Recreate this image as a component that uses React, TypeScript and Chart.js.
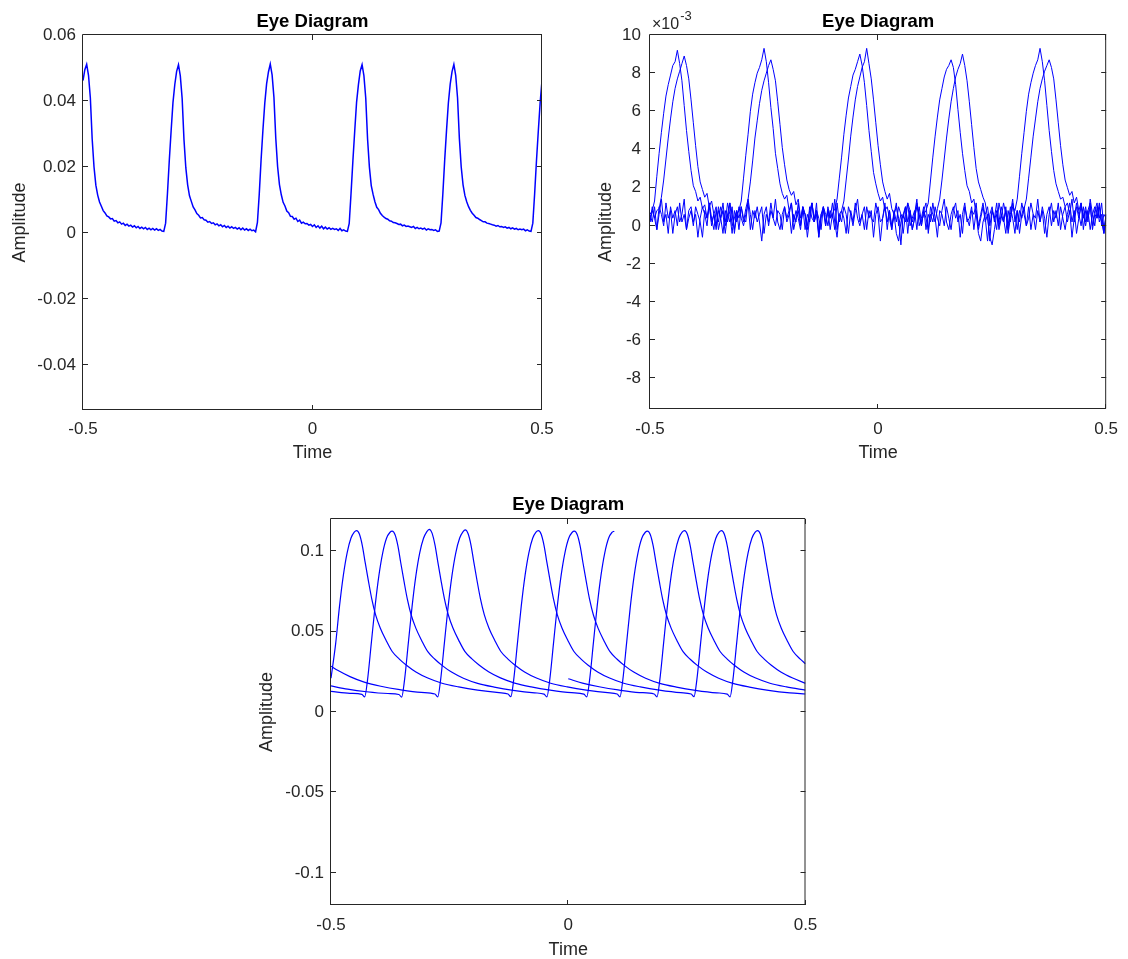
import React, { useEffect, useRef } from 'react';
import { Chart, registerables } from 'chart.js';

Chart.register(...registerables);

const FONT = '"Liberation Sans", Arial, Helvetica, sans-serif';
const AXIS_COLOR = '#262626';
const LINE_COLOR = '#0000ff';

const CHART_TITLE = 'Eye Diagram';
const X_AXIS_TITLE = 'Time';
const Y_AXIS_TITLE = 'Amplitude';

const X_RANGE = [-0.5, 0.5];
const X_TICKS = [-0.5, 0, 0.5];
const X_TICK_LABELS = ['-0.5', '0', '0.5'];

// ---------- Chart 1 (top left) ----------
const Y1_RANGE = [-0.0536, 0.06];
const Y1_TICKS = [-0.04, -0.02, 0, 0.02, 0.04, 0.06];
const Y1_TICK_LABELS = ['-0.04', '-0.02', '0', '0.02', '0.04', '0.06'];
const T1_START = -0.5;
const T1_STEP = 0.004;
const EYE1_TRACE = [
  0.0462, 0.0495,
  0.0511, 0.0478, 0.0410, 0.0285, 0.0200, 0.0145, 0.0115, 0.0094, 0.0081, 0.0068,
  0.0061, 0.0052, 0.0049, 0.0043, 0.0044, 0.0036, 0.0038, 0.0031, 0.0034, 0.0027,
  0.0030, 0.0023, 0.0027, 0.0021, 0.0024, 0.0018, 0.0022, 0.0016, 0.0020, 0.0014,
  0.0018, 0.0013, 0.0017, 0.0011, 0.0015, 0.0010, 0.0014, 0.0009, 0.0013, 0.0008,
  0.0011, 0.0006, 0.0005, 0.0030, 0.0120, 0.0220, 0.0310, 0.0395, 0.0450, 0.0490,
  0.0510, 0.0476, 0.0408, 0.0283, 0.0198, 0.0146, 0.0113, 0.0096, 0.0079, 0.0070,
  0.0059, 0.0054, 0.0046, 0.0047, 0.0040, 0.0039, 0.0033, 0.0035, 0.0029, 0.0031,
  0.0025, 0.0028, 0.0022, 0.0025, 0.0019, 0.0023, 0.0017, 0.0021, 0.0015, 0.0019,
  0.0014, 0.0017, 0.0012, 0.0016, 0.0010, 0.0015, 0.0009, 0.0013, 0.0008, 0.0012,
  0.0007, 0.0009, 0.0004, 0.0032, 0.0118, 0.0222, 0.0312, 0.0393, 0.0452, 0.0488,
  0.0512, 0.0479, 0.0411, 0.0287, 0.0201, 0.0147, 0.0116, 0.0093, 0.0082, 0.0067,
  0.0062, 0.0051, 0.0050, 0.0042, 0.0045, 0.0035, 0.0039, 0.0030, 0.0033, 0.0028,
  0.0029, 0.0024, 0.0026, 0.0020, 0.0025, 0.0017, 0.0022, 0.0015, 0.0021, 0.0013,
  0.0018, 0.0012, 0.0016, 0.0011, 0.0014, 0.0011, 0.0013, 0.0008, 0.0014, 0.0007,
  0.0010, 0.0006, 0.0005, 0.0029, 0.0121, 0.0219, 0.0309, 0.0396, 0.0449, 0.0491,
  0.0510, 0.0477, 0.0409, 0.0284, 0.0199, 0.0144, 0.0117, 0.0095, 0.0078, 0.0071,
  0.0060, 0.0053, 0.0048, 0.0044, 0.0042, 0.0037, 0.0036, 0.0032, 0.0031, 0.0029,
  0.0026, 0.0027, 0.0022, 0.0024, 0.0020, 0.0021, 0.0019, 0.0017, 0.0020, 0.0014,
  0.0017, 0.0013, 0.0015, 0.0012, 0.0015, 0.0009, 0.0013, 0.0010, 0.0011, 0.0008,
  0.0010, 0.0005, 0.0006, 0.0031, 0.0119, 0.0221, 0.0311, 0.0394, 0.0451, 0.0489,
  0.0511, 0.0478, 0.0410, 0.0286, 0.0200, 0.0146, 0.0114, 0.0095, 0.0080, 0.0069,
  0.0060, 0.0054, 0.0047, 0.0045, 0.0041, 0.0038, 0.0034, 0.0034, 0.0030, 0.0029,
  0.0027, 0.0025, 0.0024, 0.0021, 0.0023, 0.0019, 0.0020, 0.0017, 0.0019, 0.0015,
  0.0017, 0.0013, 0.0016, 0.0012, 0.0014, 0.0010, 0.0012, 0.0010, 0.0012, 0.0007,
  0.0010, 0.0006, 0.0005, 0.0030, 0.0120, 0.0220, 0.0310, 0.0395, 0.0462,
];

// ---------- Chart 2 (top right), values in units of 10^-3 ----------
const Y2_RANGE = [-9.6, 10];
const Y2_TICKS = [-8, -6, -4, -2, 0, 2, 4, 6, 8, 10];
const Y2_TICK_LABELS = ['-8', '-6', '-4', '-2', '0', '2', '4', '6', '8', '10'];
const Y2_MULTIPLIER_BASE = '\u00d710';
const Y2_MULTIPLIER_EXP = '-3';
const T2_START = -0.5;
const T2_STEP = 0.005;
const EYE2_TRACE_A = [
  0.6, 0.8, 1.3, 2.6, 3.8, 4.9, 5.9, 6.8, 7.4, 7.9, 8.4, 8.6, 9.2, 8.5, 7.6, 6.3, 5.0, 3.9, 2.9, 2.1, 1.8, 1.3, 1.5, 0.9, 1.1,
  0.4, 1.0, 0.2, 0.6, -0.2, 0.8, 0.4, 1.2, 0.0, 0.6, 0.2, 1.0, -0.4, 0.6,
  0.8, 1.3, 2.5, 3.7, 4.8, 6.0, 6.9, 7.5, 8.0, 8.3, 8.7, 9.3, 8.6, 7.5, 6.2, 5.1, 3.8, 3.0, 2.2, 1.7, 1.4, 1.6, 0.8, 1.2,
  0.2, 0.8, 0.4, -0.2, 1.0, 0.6, 0.0, 0.8, 1.2, 0.2, 0.6, -0.6, 0.4, 1.0, 0.2, 0.8, -0.2, 0.6,
  0.9, 1.4, 2.5, 3.6, 4.8, 5.8, 6.7, 7.3, 7.9, 8.2, 8.6, 9.0, 8.4, 7.5, 6.3, 5.0, 3.9, 2.8, 2.2, 1.7, 1.3, 1.5, 0.8, 1.0,
  0.4, -0.2, 0.8, 0.2, 1.0, 0.6, -0.4, 0.6, 1.2, 0.0, 0.4, 0.8, -0.2, 1.0, 0.2, 0.6,
  0.8, 1.2, 2.4, 3.6, 4.7, 5.7, 6.6, 7.2, 7.8, 8.2, 8.4, 8.7, 8.3, 7.4, 6.1, 4.9, 3.8, 2.9, 2.1, 1.8, 1.2, 1.4, 0.6, -0.4,
  -0.8, 0.2, 0.6, 1.0, 0.0, 0.8, 0.4, -0.2, 1.2, 0.6, 0.2, 0.8, -0.4, 0.4, 1.0,
  0.8, 1.4, 2.6, 3.8, 4.9, 6.0, 6.9, 7.5, 8.0, 8.4, 8.7, 9.3, 8.6, 7.6, 6.3, 5.0, 3.9, 2.9, 2.2, 1.8, 1.4, 1.5, 1.0, 1.2,
  0.6, 1.4, 0.2, 1.0, 0.4, 1.2, -0.2, 0.8, 0.4, 1.0, 0.0, 0.8, 1.2, 0.2, 0.6, -0.4, 0.4,
];
const EYE2_TRACE_B = [
  0.2, 1.0, 0.4, 0.8,
  0.9, 1.5, 2.4, 3.5, 4.6, 5.6, 6.5, 7.2, 7.7, 8.1, 8.5, 8.9, 8.4, 7.7, 6.6, 5.4, 4.2, 3.1, 2.3, 1.9, 1.5, 1.7, 1.0, 1.3,
  0.6, 0.0, 1.0, 0.4, -0.4, 0.8, 0.2, 1.2, 0.6, -0.2, 0.8, 0.4, 1.0, 0.2,
  0.9, 1.4, 2.3, 3.4, 4.6, 5.5, 6.4, 7.1, 7.6, 8.0, 8.4, 8.7, 8.2, 7.6, 6.5, 5.3, 4.1, 3.2, 2.4, 1.9, 1.6, 1.8, 1.1, 1.4,
  0.4, 1.0, -0.2, 0.6, 0.2, 1.2, 0.4, 0.8, -0.4, 0.6, 1.0, 0.0, 0.8, 0.4, 1.2, 0.2, -0.6, 0.6,
  0.8, 1.3, 2.4, 3.5, 4.7, 5.7, 6.6, 7.3, 7.8, 8.3, 8.6, 9.3, 8.5, 7.7, 6.6, 5.4, 4.2, 3.2, 2.3, 1.8, 1.4, 1.7, 0.9, 0.6,
  -0.4, -0.8, 0.2, 0.6, 1.0, 0.2, 0.8, -0.2, 0.4, 1.2, 0.6, 0.0, 0.8, 0.4, -0.2, 1.0, 0.6, 0.2,
  0.9, 1.4, 2.4, 3.5, 4.6, 5.6, 6.5, 7.2, 7.8, 8.2, 8.5, 9.0, 8.4, 7.6, 6.5, 5.3, 4.1, 3.0, 2.3, 1.9, 1.5, 1.2, 0.4, -0.6,
  -1.0, -0.2, 0.6, 0.2, 1.0, 0.4, -0.4, 0.8, 0.2, 1.2, 0.6, -0.2, 0.8, 0.4,
  0.9, 1.4, 2.5, 3.6, 4.7, 5.6, 6.5, 7.2, 7.7, 8.1, 8.4, 8.7, 8.3, 7.7, 6.6, 5.4, 4.2, 3.2, 2.4, 2.0, 1.6, 1.8, 1.2, 1.5,
  0.8, 1.2, 0.4, 1.0, 0.2, 1.4, 0.6, 0.0, 1.0, 0.4, 1.2, -0.2, 0.6,
];
const EYE2_TRACE_C = [
  0.6, 0.2, 1.0, -0.2, 0.6, 1.4, 0.2, 0.6, -0.4, 1.0, 0.4, 0.8, 0.0, 1.2, 0.2, 0.6, -0.2, 0.8, 1.0, 0.2,
  0.6, -0.6, 0.4, 1.0, 0.6, 0.0, 1.2, 0.4, -0.2, 0.8, 0.2, 1.0, 0.6, -0.4, 0.6, 1.2, 0.0, 0.4, 0.8, -0.2,
  1.0, 0.4, 0.2, 1.4, 0.6, -0.2, 0.8, 0.2, 0.6, 1.0, -0.4, 0.6, 0.2, 1.2, 0.4, 0.0, 0.8, 0.6, -0.2, 1.0,
  0.2, 0.6, 1.2, -0.2, 0.4, 0.8, 0.0, 1.0, 0.6, -0.6, 0.4, 1.2, 0.2, 0.8, 0.4, -0.2, 1.0, 0.6, 0.0, 0.8,
  0.4, 1.4, -0.2, 0.6, 0.2, 1.0, 0.6, -0.4, 0.8, 0.2, 1.2, 0.4, 0.0, 0.6, 1.0, -0.2, 0.8, 0.4, 0.2, 1.2,
  0.6, -0.8, 0.4, 1.0, 0.2, 0.8, -0.2, 0.6, 1.2, 0.0, 0.6, 0.4, 1.0, -0.4, 0.8, 0.2, 0.6, 1.4, 0.0, 0.4,
  1.0, -0.2, 0.6, 0.2, 1.2, 0.4, -0.6, 0.8, 0.6, 0.0, 1.0, 0.4, -0.2, 0.8, 1.2, 0.2, 0.6, -0.4, 1.0, 0.4,
  0.0, 0.8, 0.6, 1.2, -0.2, 0.4, 1.0, 0.2, 0.6, -0.8, 0.8, 0.4, 1.2, 0.0, 0.6, 0.2, 1.0, -0.2, 0.6, 1.4,
  0.2, 0.8, -0.4, 0.6, 1.0, 0.0, 0.4, 1.2, 0.6, -0.2, 0.8, 0.2, 1.0, 0.4, -0.6, 0.6, 1.2, 0.2, 0.8, 0.0,
  1.0, 0.4, -0.2, 0.6, 1.2, 0.2, 0.8, -0.4, 0.4, 1.0, 0.6, 0.0, 0.8, 1.2, -0.2, 0.6, 0.4, 1.0, 0.2, -0.4, 0.6,
];
const EYE2_TRACE_D = [
  0.2, 0.8, 0.4, -0.2, 1.0, 0.6, 0.0, 1.2, 0.4, 0.8, -0.4, 0.6, 1.0, 0.2, 0.6, 1.4, -0.2, 0.4, 0.8, 0.0,
  1.0, 0.6, 0.2, -0.6, 0.8, 0.4, 1.2, 0.0, 0.6, 1.0, -0.2, 0.4, 0.8, 0.2, 1.2, 0.6, -0.4, 0.8, 0.2, 1.0,
  0.4, 0.0, 0.6, 1.2, -0.2, 0.8, 0.4, 1.0, 0.2, -0.8, 0.6, 1.0, 0.0, 0.8, 0.4, 1.4, 0.2, -0.2, 0.6, 1.0,
  0.4, 0.8, -0.4, 0.6, 0.2, 1.2, 0.0, 0.8, 0.6, -0.2, 1.0, 0.4, 0.2, 1.2, -0.6, 0.6, 0.8, 0.0, 1.0, 0.4,
  0.6, -0.2, 1.2, 0.2, 0.8, 0.4, -0.4, 1.0, 0.6, 0.0, 0.8, 1.4, 0.2, 0.6, -0.2, 1.0, 0.4, 0.8, -0.6, 0.6,
  1.0, 0.2, 0.4, 1.2, -0.2, 0.8, 0.0, 0.6, 1.0, 0.4, -1.0, 0.6, 0.2, 1.2, 0.8, -0.2, 0.4, 1.0, 0.6, 0.0,
  0.8, 1.2, -0.4, 0.6, 0.2, 1.0, 0.4, 0.0, 0.8, 1.4, 0.2, -0.2, 0.6, 1.0, 0.4, 0.8, -0.6, 0.6, 1.2, 0.2,
  0.4, 1.0, -0.2, 0.8, 0.0, 0.6, 1.2, 0.4, -0.8, 0.6, 1.0, 0.2, 0.8, -0.2, 0.4, 1.2, 0.6, 0.0, 1.0, 0.4,
  -0.4, 0.8, 0.2, 1.2, 0.6, 0.0, 1.0, -0.2, 0.6, 0.4, 1.4, 0.2, 0.8, -0.4, 0.6, 1.0, 0.0, 0.8, 0.4, 1.2,
  -0.2, 0.6, 1.0, 0.2, 0.8, -0.6, 0.4, 1.2, 0.6, 0.0, 1.0, 0.2, 0.8, -0.2, 0.6, 1.0, 0.4, 1.2, 0.0, 0.6, 0.4,
];

// ---------- Chart 3 (bottom), [time, amplitude] pairs ----------
const Y3_RANGE = [-0.12, 0.12];
const Y3_TICKS = [-0.1, -0.05, 0, 0.05, 0.1];
const Y3_TICK_LABELS = ['-0.1', '-0.05', '0', '0.05', '0.1'];
const EYE3_TRACE_1 = [
  [-0.500, 0.0210], [-0.490, 0.0430], [-0.482, 0.0660], [-0.474, 0.0850], [-0.466, 0.0990], [-0.458, 0.1080], [-0.451, 0.1118], [-0.446, 0.1128],
  [-0.440, 0.1105], [-0.434, 0.1035], [-0.428, 0.0930], [-0.421, 0.0812], [-0.414, 0.0702], [-0.406, 0.0604], [-0.396, 0.0521], [-0.384, 0.0446], [-0.371, 0.0376], [-0.356, 0.0329], [-0.341, 0.0291], [-0.321, 0.0249], [-0.296, 0.0211], [-0.266, 0.0179], [-0.231, 0.0156], [-0.191, 0.0136], [-0.146, 0.0120], [-0.127, 0.0112],
  [-0.121, 0.0095], [-0.115, 0.0200], [-0.107, 0.0430], [-0.099, 0.0660], [-0.091, 0.0850], [-0.083, 0.0990], [-0.075, 0.1080], [-0.068, 0.1118], [-0.063, 0.1128],
  [-0.057, 0.1105], [-0.051, 0.1035], [-0.045, 0.0930], [-0.038, 0.0812], [-0.031, 0.0702], [-0.023, 0.0604], [-0.013, 0.0521], [-0.001, 0.0446], [0.012, 0.0376], [0.027, 0.0329], [0.042, 0.0291], [0.062, 0.0249], [0.087, 0.0211], [0.117, 0.0179], [0.152, 0.0156], [0.192, 0.0136], [0.237, 0.0120], [0.259, 0.0112],
  [0.265, 0.0095], [0.271, 0.0200], [0.279, 0.0430], [0.287, 0.0660], [0.295, 0.0850], [0.303, 0.0990], [0.311, 0.1080], [0.318, 0.1118], [0.323, 0.1128],
  [0.329, 0.1105], [0.335, 0.1035], [0.341, 0.0930], [0.348, 0.0812], [0.355, 0.0702], [0.363, 0.0604], [0.373, 0.0521], [0.385, 0.0446], [0.398, 0.0376], [0.413, 0.0329], [0.428, 0.0291], [0.448, 0.0249], [0.473, 0.0211], [0.500, 0.0178],
];
const EYE3_TRACE_2 = [
  [-0.500, 0.0128], [-0.460, 0.0116], [-0.435, 0.0110],
  [-0.429, 0.0094], [-0.423, 0.0200], [-0.415, 0.0430], [-0.407, 0.0660], [-0.399, 0.0850], [-0.391, 0.0990], [-0.383, 0.1080], [-0.376, 0.1116], [-0.371, 0.1124],
  [-0.365, 0.1102], [-0.359, 0.1033], [-0.353, 0.0928], [-0.346, 0.0810], [-0.339, 0.0700], [-0.331, 0.0603], [-0.321, 0.0520], [-0.309, 0.0445], [-0.296, 0.0375], [-0.281, 0.0328], [-0.266, 0.0290], [-0.246, 0.0248], [-0.221, 0.0210], [-0.191, 0.0178], [-0.156, 0.0155], [-0.116, 0.0135], [-0.071, 0.0119], [-0.051, 0.0111],
  [-0.045, 0.0094], [-0.039, 0.0200], [-0.031, 0.0430], [-0.023, 0.0660], [-0.015, 0.0850], [-0.007, 0.0990], [0.001, 0.1080], [0.008, 0.1116], [0.013, 0.1124],
  [0.019, 0.1102], [0.025, 0.1033], [0.031, 0.0928], [0.038, 0.0810], [0.045, 0.0700], [0.053, 0.0603], [0.063, 0.0520], [0.075, 0.0445], [0.088, 0.0375], [0.103, 0.0328], [0.118, 0.0290], [0.138, 0.0248], [0.163, 0.0210], [0.193, 0.0178], [0.228, 0.0155], [0.268, 0.0135], [0.313, 0.0119], [0.335, 0.0111],
  [0.341, 0.0094], [0.347, 0.0200], [0.355, 0.0430], [0.363, 0.0660], [0.371, 0.0850], [0.379, 0.0990], [0.387, 0.1080], [0.394, 0.1118], [0.399, 0.1128],
  [0.405, 0.1105], [0.411, 0.1035], [0.417, 0.0930], [0.424, 0.0812], [0.431, 0.0702], [0.439, 0.0604], [0.449, 0.0521], [0.461, 0.0446], [0.474, 0.0376], [0.489, 0.0329], [0.500, 0.0300],
];
const EYE3_TRACE_3 = [
  [-0.500, 0.0162], [-0.465, 0.0142], [-0.425, 0.0126], [-0.380, 0.0115], [-0.357, 0.0109],
  [-0.351, 0.0093], [-0.345, 0.0200], [-0.337, 0.0430], [-0.329, 0.0660], [-0.321, 0.0850], [-0.313, 0.0990], [-0.305, 0.1080], [-0.298, 0.1122], [-0.293, 0.1136],
  [-0.287, 0.1112], [-0.281, 0.1040], [-0.275, 0.0935], [-0.268, 0.0815], [-0.261, 0.0705], [-0.253, 0.0606], [-0.243, 0.0522], [-0.231, 0.0447], [-0.218, 0.0377], [-0.203, 0.0330], [-0.188, 0.0292], [-0.168, 0.0250], [-0.143, 0.0212], [-0.113, 0.0180], [-0.078, 0.0156], [-0.038, 0.0136], [0.007, 0.0120], [0.033, 0.0111],
  [0.039, 0.0094], [0.045, 0.0200], [0.053, 0.0430], [0.061, 0.0660], [0.069, 0.0850], [0.077, 0.0990], [0.085, 0.1080], [0.092, 0.1116], [0.097, 0.1124],
];
const EYE3_TRACE_4 = [
  [-0.500, 0.0285], [-0.485, 0.0258], [-0.460, 0.0220], [-0.430, 0.0186], [-0.395, 0.0160], [-0.355, 0.0139], [-0.310, 0.0122], [-0.281, 0.0112],
  [-0.275, 0.0094], [-0.269, 0.0200], [-0.261, 0.0430], [-0.253, 0.0660], [-0.245, 0.0850], [-0.237, 0.0990], [-0.229, 0.1080], [-0.222, 0.1120], [-0.217, 0.1132],
  [-0.211, 0.1108], [-0.205, 0.1038], [-0.199, 0.0932], [-0.192, 0.0813], [-0.185, 0.0703], [-0.177, 0.0605], [-0.167, 0.0521], [-0.155, 0.0446], [-0.142, 0.0376], [-0.127, 0.0329], [-0.112, 0.0291], [-0.092, 0.0249], [-0.067, 0.0211], [-0.037, 0.0179], [-0.002, 0.0156], [0.038, 0.0136], [0.083, 0.0120], [0.103, 0.0112],
  [0.109, 0.0094], [0.115, 0.0200], [0.123, 0.0430], [0.131, 0.0660], [0.139, 0.0850], [0.147, 0.0990], [0.155, 0.1080], [0.162, 0.1116], [0.167, 0.1124],
  [0.173, 0.1102], [0.179, 0.1033], [0.185, 0.0928], [0.192, 0.0810], [0.199, 0.0700], [0.207, 0.0603], [0.217, 0.0520], [0.229, 0.0445], [0.242, 0.0375], [0.257, 0.0328], [0.272, 0.0290], [0.292, 0.0248], [0.317, 0.0210], [0.347, 0.0178], [0.382, 0.0155], [0.422, 0.0135], [0.467, 0.0119], [0.500, 0.0112],
];
const EYE3_TRACE_5 = [
  [0.000, 0.0207], [0.030, 0.0180], [0.065, 0.0157], [0.105, 0.0137], [0.150, 0.0121], [0.181, 0.0112],
  [0.187, 0.0094], [0.193, 0.0200], [0.201, 0.0430], [0.209, 0.0660], [0.217, 0.0850], [0.225, 0.0990], [0.233, 0.1080], [0.240, 0.1118], [0.245, 0.1128],
  [0.251, 0.1105], [0.257, 0.1035], [0.263, 0.0930], [0.270, 0.0812], [0.277, 0.0702], [0.285, 0.0604], [0.295, 0.0521], [0.307, 0.0446], [0.320, 0.0376], [0.335, 0.0329], [0.350, 0.0291], [0.370, 0.0249], [0.395, 0.0211], [0.425, 0.0179], [0.460, 0.0156], [0.500, 0.0136],
];

// ---------- helpers ----------
const sampled = (values: number[], start: number, step: number) =>
  values.map((v, i) => ({ x: start + i * step, y: v }));
const paired = (pairs: number[][]) => pairs.map(([t, v]) => ({ x: t, y: v }));

const lineDataset = (data: any[], width: number, smooth: boolean) => ({
  data,
  borderColor: LINE_COLOR,
  borderWidth: width,
  pointRadius: 0,
  fill: false,
  tension: 0,
  cubicInterpolationMode: smooth ? 'monotone' : 'default',
});

const boxPlugin = {
  id: 'matlabBox',
  afterDraw(chart: any) {
    const { ctx, chartArea } = chart;
    const { left, right, top, bottom } = chartArea;
    const xs = chart.scales.x;
    const ys = chart.scales.y;
    const TL = 5;
    ctx.save();
    ctx.strokeStyle = AXIS_COLOR;
    ctx.lineWidth = 1;
    ctx.beginPath();
    ctx.rect(left - 0.5, top - 0.5, right - left, bottom - top);
    xs.ticks.forEach((t: any) => {
      const p = Math.round(xs.getPixelForValue(t.value)) - 0.5;
      ctx.moveTo(p, bottom);
      ctx.lineTo(p, bottom - TL);
      ctx.moveTo(p, top);
      ctx.lineTo(p, top + TL);
    });
    ys.ticks.forEach((t: any) => {
      const p = Math.round(ys.getPixelForValue(t.value)) - 0.5;
      ctx.moveTo(left, p);
      ctx.lineTo(left + TL, p);
      ctx.moveTo(right, p);
      ctx.lineTo(right - TL, p);
    });
    ctx.stroke();
    ctx.restore();
  },
};

const multiplierPlugin = {
  id: 'multiplier',
  afterDraw(chart: any) {
    const { ctx, chartArea } = chart;
    ctx.save();
    ctx.fillStyle = AXIS_COLOR;
    ctx.textBaseline = 'middle';
    ctx.textAlign = 'left';
    ctx.font = `16px ${FONT}`;
    const x0 = chartArea.left + 2;
    ctx.fillText(Y2_MULTIPLIER_BASE, x0, chartArea.top - 10);
    const w = ctx.measureText(Y2_MULTIPLIER_BASE).width;
    ctx.font = `13px ${FONT}`;
    ctx.fillText(Y2_MULTIPLIER_EXP, x0 + w + 1, chartArea.top - 19);
    ctx.restore();
  },
};

type Spec = {
  box: { left: number; top: number; width: number; height: number };
  padRight: number;
  yWidth: number;
  xHeight: number;
  titlePad: { top: number; bottom: number };
  yTickPad: number;
  xTickPad: number;
  yTitlePad: number;
  xTitlePad: number;
  yRange: number[];
  yTicks: number[];
  yTickLabels: string[];
  datasets: any[];
  extraPlugins?: any[];
};

function EyeChart({ spec }: { spec: Spec }) {
  const ref = useRef<HTMLCanvasElement | null>(null);
  useEffect(() => {
    const canvas = ref.current;
    if (!canvas) return;
    const chart = new Chart(canvas, {
      type: 'line',
      data: { datasets: spec.datasets },
      options: {
        animation: false,
        responsive: false,
        maintainAspectRatio: false,
        devicePixelRatio: 1,
        events: [],
        parsing: false,
        layout: { padding: { left: 0, top: 0, right: spec.padRight, bottom: 0 } },
        plugins: {
          legend: { display: false },
          tooltip: { enabled: false },
          title: {
            display: true,
            text: CHART_TITLE,
            fullSize: false,
            color: '#000000',
            font: { family: FONT, size: 18.5, weight: 'bold', lineHeight: 1.2 },
            padding: spec.titlePad,
          },
        },
        scales: {
          x: {
            type: 'linear',
            min: X_RANGE[0],
            max: X_RANGE[1],
            afterBuildTicks: (s: any) => {
              s.ticks = X_TICKS.map((value) => ({ value }));
            },
            afterFit: (s: any) => {
              s.height = spec.xHeight;
            },
            grid: { display: false, drawTicks: false },
            border: { display: false },
            ticks: {
              autoSkip: false,
              maxRotation: 0,
              padding: spec.xTickPad,
              color: AXIS_COLOR,
              font: { family: FONT, size: 17 },
              callback: (_v: any, i: number) => X_TICK_LABELS[i],
            },
            title: {
              display: true,
              text: X_AXIS_TITLE,
              color: AXIS_COLOR,
              font: { family: FONT, size: 18, lineHeight: 1 },
              padding: { top: 0, bottom: spec.xTitlePad },
            },
          },
          y: {
            type: 'linear',
            min: spec.yRange[0],
            max: spec.yRange[1],
            afterBuildTicks: (s: any) => {
              s.ticks = spec.yTicks.map((value) => ({ value }));
            },
            afterFit: (s: any) => {
              s.width = spec.yWidth;
            },
            grid: { display: false, drawTicks: false },
            border: { display: false },
            ticks: {
              autoSkip: false,
              padding: spec.yTickPad,
              color: AXIS_COLOR,
              font: { family: FONT, size: 17 },
              callback: (_v: any, i: number) => spec.yTickLabels[i],
            },
            title: {
              display: true,
              text: Y_AXIS_TITLE,
              color: AXIS_COLOR,
              font: { family: FONT, size: 18, lineHeight: 1 },
              padding: { top: spec.yTitlePad, bottom: 0 },
            },
          },
        },
      } as any,
      plugins: [boxPlugin, ...(spec.extraPlugins || [])],
    });
    return () => chart.destroy();
  }, []);
  const { left, top, width, height } = spec.box;
  return (
    <canvas
      ref={ref}
      width={width}
      height={height}
      style={{ position: 'absolute', left, top, width, height, display: 'block' }}
    />
  );
}

const SPEC_1: Spec = {
  box: { left: 0, top: 0, width: 564, height: 470 },
  padRight: 22,
  yWidth: 83,
  xHeight: 60,
  titlePad: { top: 10.6, bottom: 2.2 },
  yTickPad: 7,
  xTickPad: 9,
  yTitlePad: 10.6,
  xTitlePad: 7.7,
  yRange: Y1_RANGE,
  yTicks: Y1_TICKS,
  yTickLabels: Y1_TICK_LABELS,
  datasets: [lineDataset(sampled(EYE1_TRACE, T1_START, T1_STEP), 1.5, false)],
};

const SPEC_2: Spec = {
  box: { left: 566, top: 0, width: 562, height: 470 },
  padRight: 19,
  yWidth: 84,
  xHeight: 61,
  titlePad: { top: 10.6, bottom: 2.2 },
  yTickPad: 9,
  xTickPad: 10,
  yTitlePad: 31,
  xTitlePad: 7.7,
  yRange: Y2_RANGE,
  yTicks: Y2_TICKS,
  yTickLabels: Y2_TICK_LABELS,
  datasets: [
    lineDataset(sampled(EYE2_TRACE_C, T2_START, T2_STEP), 1, false),
    lineDataset(sampled(EYE2_TRACE_D, T2_START, T2_STEP), 1, false),
    lineDataset(sampled(EYE2_TRACE_A, T2_START, T2_STEP), 1, false),
    lineDataset(sampled(EYE2_TRACE_B, T2_START, T2_STEP), 1, false),
  ],
  extraPlugins: [multiplierPlugin],
};

const SPEC_3: Spec = {
  box: { left: 240, top: 480, width: 590, height: 479 },
  padRight: 24.5,
  yWidth: 91,
  xHeight: 54,
  titlePad: { top: 13.9, bottom: 2.9 },
  yTickPad: 7,
  xTickPad: 10,
  yTitlePad: 17.7,
  xTitlePad: 0,
  yRange: Y3_RANGE,
  yTicks: Y3_TICKS,
  yTickLabels: Y3_TICK_LABELS,
  datasets: [
    lineDataset(paired(EYE3_TRACE_1), 1.2, true),
    lineDataset(paired(EYE3_TRACE_2), 1.2, true),
    lineDataset(paired(EYE3_TRACE_3), 1.2, true),
    lineDataset(paired(EYE3_TRACE_4), 1.2, true),
    lineDataset(paired(EYE3_TRACE_5), 1.2, true),
  ],
};

export default function App() {
  return (
    <div style={{ position: 'absolute', left: 0, top: 0, width: 1128, height: 959, overflow: 'hidden' }}>
      <EyeChart spec={SPEC_1} />
      <EyeChart spec={SPEC_2} />
      <EyeChart spec={SPEC_3} />
    </div>
  );
}
